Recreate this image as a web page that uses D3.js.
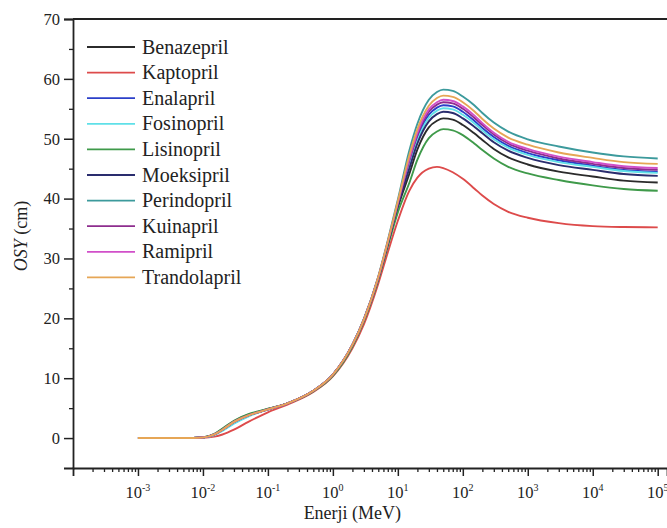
<!DOCTYPE html>
<html>
<head>
<meta charset="utf-8">
<script src="https://cdn.jsdelivr.net/npm/d3@7"></script>
<style>
	html, body { margin: 0; padding: 0; background: #fff; }
	#app { width: 667px; height: 528px; }
	text { font-family: 'Liberation Serif', 'Times New Roman', serif; fill: #222; }
</style>
</head>
<body>
<div id="app"></div>
<script>
// energies (MeV) shared by every curve
const energy = [0.001, 0.005, 0.01, 0.015, 0.02, 0.03, 0.05, 0.07, 0.1, 0.2, 0.5, 1, 2, 3, 5, 7, 10, 15, 20, 30, 40, 50, 70, 100, 150, 200, 300, 500, 1000, 3000, 10000, 30000, 100000];

const benazepril = [0, 0, 0.1, 0.65, 1.5, 2.8, 3.9, 4.35, 4.85, 5.8, 7.9, 10.6, 15.5, 19.7, 26.6, 32.3, 38.5, 44.1, 48.2, 51.9, 53.0, 53.4, 53.2, 52.3, 50.9, 49.8, 48.3, 46.9, 45.7, 44.5, 43.7, 43.0, 42.7];
const kaptopril = [0, 0, 0.05, 0.25, 0.6, 1.4, 2.7, 3.5, 4.3, 5.6, 7.7, 10.3, 15.0, 19.0, 25.8, 31.0, 36.3, 41.3, 43.5, 45.0, 45.3, 45.1, 44.4, 43.3, 41.7, 40.5, 39.1, 37.8, 36.8, 35.9, 35.4, 35.25, 35.2];
const enalapril = [0, 0, 0.1, 0.6, 1.4, 2.7, 3.8, 4.3, 4.8, 5.8, 7.9, 10.6, 15.6, 19.8, 26.8, 32.6, 39.1, 45.9, 50.2, 54.0, 55.2, 55.6, 55.4, 54.5, 53.0, 51.8, 50.3, 48.8, 47.6, 46.4, 45.5, 44.8, 44.5];
const fosinopril = [0, 0, 0.08, 0.5, 1.2, 2.4, 3.6, 4.2, 4.75, 5.8, 7.9, 10.6, 15.6, 19.8, 26.7, 32.5, 39.0, 45.5, 49.7, 53.5, 54.7, 55.1, 54.9, 54.0, 52.6, 51.4, 49.9, 48.5, 47.3, 46.1, 45.3, 44.6, 44.3];
const lisinopril = [0, 0, 0.12, 0.7, 1.6, 2.9, 4.0, 4.45, 4.9, 5.8, 7.8, 10.4, 15.3, 19.5, 26.4, 32.0, 37.7, 42.6, 46.5, 50.1, 51.2, 51.6, 51.4, 50.6, 49.2, 48.1, 46.7, 45.3, 44.2, 43.1, 42.2, 41.6, 41.3];
const moeksipril = [0, 0, 0.1, 0.6, 1.4, 2.7, 3.8, 4.3, 4.8, 5.8, 7.9, 10.6, 15.6, 19.8, 26.7, 32.4, 38.8, 45.0, 49.2, 52.9, 54.1, 54.5, 54.3, 53.4, 52.0, 50.9, 49.4, 48.0, 46.8, 45.6, 44.8, 44.1, 43.8];
const perindopril = [0, 0, 0.1, 0.6, 1.4, 2.7, 3.8, 4.3, 4.8, 5.8, 7.9, 10.6, 15.6, 19.9, 27.0, 33.0, 39.8, 48.0, 52.5, 56.5, 57.8, 58.2, 58.0, 57.05, 55.6, 54.3, 52.7, 51.2, 49.9, 48.7, 47.7, 47.05, 46.7];
const kuinapril = [0, 0, 0.1, 0.6, 1.4, 2.7, 3.8, 4.3, 4.8, 5.8, 7.9, 10.6, 15.6, 19.8, 26.8, 32.7, 39.2, 46.3, 50.6, 54.5, 55.7, 56.1, 55.9, 55.0, 53.5, 52.3, 50.7, 49.2, 48.0, 46.7, 45.8, 45.1, 44.8];
const ramipril = [0, 0, 0.1, 0.6, 1.4, 2.7, 3.8, 4.3, 4.8, 5.8, 7.9, 10.6, 15.6, 19.8, 26.8, 32.7, 39.3, 46.6, 51.0, 54.9, 56.1, 56.5, 56.3, 55.4, 53.9, 52.6, 51.0, 49.5, 48.3, 47.0, 46.1, 45.4, 45.1];
const trandolapril = [0, 0, 0.1, 0.6, 1.4, 2.7, 3.8, 4.3, 4.8, 5.8, 7.9, 10.6, 15.6, 19.8, 26.9, 32.8, 39.5, 47.2, 51.6, 55.5, 56.8, 57.2, 57.0, 56.1, 54.6, 53.3, 51.7, 50.2, 49.0, 47.7, 46.8, 46.1, 45.8];

const names = ['Benazepril', 'Kaptopril', 'Enalapril', 'Fosinopril', 'Lisinopril', 'Moeksipril', 'Perindopril', 'Kuinapril', 'Ramipril', 'Trandolapril'];
const values = [benazepril, kaptopril, enalapril, fosinopril, lisinopril, moeksipril, perindopril, kuinapril, ramipril, trandolapril];
const colors = ['#2b2b2b', '#dd4b4b', '#2b3fc9', '#5fe0e8', '#3f9a4a', '#2a2d6e', '#3c9a9c', '#8e2d8e', '#d14fc9', '#e6a656'];

const xExponents = [-3, -2, -1, 0, 1, 2, 3, 4, 5];
const yTicks = [0, 10, 20, 30, 40, 50, 60, 70];
const yMinorTicks = [5, 15, 25, 35, 45, 55, 65];

const xLabel = 'Enerji (MeV)';

function init () {
	let app = d3.select('#app'),
		outerWidth = 667,
		outerHeight = 528,
		margin = { top: 19, right: 0, bottom: 60, left: 73 },
		width = outerWidth - margin.left - margin.right,
		height = outerHeight - margin.top - margin.bottom;

	let svg = app.append('svg')
		.attr('width', outerWidth)
		.attr('height', outerHeight);

	let graph = svg.append('g')
		.attr('transform', `translate(${ margin.left }, ${ margin.top })`);

	let x = d3.scaleLog()
		.domain([1e-4, 1.39e5])
		.range([0, width]);

	let y = d3.scaleLinear()
		.domain([-5, 70])
		.range([height, 0]);

	// minor x ticks 2..9 in each decade
	let xMinor = [];
	for (let d = -4; d <= 5; d++) {
		for (let k = 2; k <= 9; k++) {
			let v = k * Math.pow(10, d);
			if (v < x.domain()[1]) xMinor.push(v);
		}
	}

	let axisColor = '#222';

	// x minor ticks
	graph.append('g')
		.attr('transform', `translate(0, ${ height })`)
		.call(d3.axisBottom(x).tickValues(xMinor).tickSize(4).tickFormat(''))
		.call(g => g.select('.domain').remove())
		.selectAll('line').attr('stroke', axisColor).attr('stroke-width', 1.3);

	// x major ticks + labels
	let xAxis = graph.append('g')
		.attr('transform', `translate(0, ${ height })`)
		.call(d3.axisBottom(x).tickValues(xExponents.map(e => Math.pow(10, e))).tickSize(8).tickFormat(''));
	xAxis.select('.domain').attr('stroke', axisColor).attr('stroke-width', 1.8);
	xAxis.selectAll('line').attr('stroke', axisColor).attr('stroke-width', 1.5);

	xExponents.forEach(e => {
		let t = graph.append('text')
			.attr('x', x(Math.pow(10, e)))
			.attr('y', height + 30)
			.attr('text-anchor', 'middle')
			.attr('font-size', 16.5);
		t.append('tspan').text('10');
		t.append('tspan')
			.attr('dy', -7)
			.attr('font-size', 10)
			.text(e);
	});

	// y axis
	graph.append('g')
		.call(d3.axisLeft(y).tickValues(yMinorTicks).tickSize(4).tickFormat(''))
		.call(g => g.select('.domain').remove())
		.selectAll('line').attr('stroke', axisColor).attr('stroke-width', 1.3);

	let yAxis = graph.append('g')
		.call(d3.axisLeft(y).tickValues(yTicks).tickSize(9).tickPadding(4));
	yAxis.select('.domain').attr('stroke', axisColor).attr('stroke-width', 1.8);
	yAxis.selectAll('line').attr('stroke', axisColor).attr('stroke-width', 1.5);
	yAxis.selectAll('text')
		.attr('font-size', 16.5)
		.attr('font-family', "'Liberation Serif', 'Times New Roman', serif")
		.attr('fill', '#222');

	// top frame line
	graph.append('line')
		.attr('x1', 0).attr('x2', width)
		.attr('y1', 0).attr('y2', 0)
		.attr('stroke', axisColor)
		.attr('stroke-width', 1.8);

	// curves
	let line = d3.line()
		.x((d, i) => x(energy[i]))
		.y(d => y(d))
		.curve(d3.curveMonotoneX);

	graph.append('g')
		.attr('fill', 'none')
		.attr('stroke-linejoin', 'round')
	.selectAll('path')
	.data(values)
	.enter().append('path')
		.attr('d', line)
		.attr('stroke', (d, i) => colors[i])
		.attr('stroke-width', 1.9);

	// legend
	let legend = graph.append('g')
		.attr('transform', 'translate(14, 28)');

	names.forEach((n, i) => {
		let row = legend.append('g')
			.attr('transform', `translate(0, ${ i * 25.6 })`);
		row.append('line')
			.attr('x1', 0).attr('x2', 48)
			.attr('stroke', colors[i])
			.attr('stroke-width', 1.8);
		row.append('text')
			.attr('x', 55)
			.attr('dy', '0.33em')
			.attr('font-size', 20)
			.text(n);
	});

	// axis titles
	graph.append('text')
		.attr('x', x(Math.pow(10, 0.3)))
		.attr('y', height + 51)
		.attr('text-anchor', 'middle')
		.attr('font-size', 18)
		.text(xLabel);

	let yTitle = svg.append('text')
		.attr('transform', 'translate(27, 236) rotate(-90)')
		.attr('text-anchor', 'middle')
		.attr('font-size', 18);
	yTitle.append('tspan').attr('font-style', 'italic').text('OSY');
	yTitle.append('tspan').text(' (cm)');
}

init();
</script>
</body>
</html>
